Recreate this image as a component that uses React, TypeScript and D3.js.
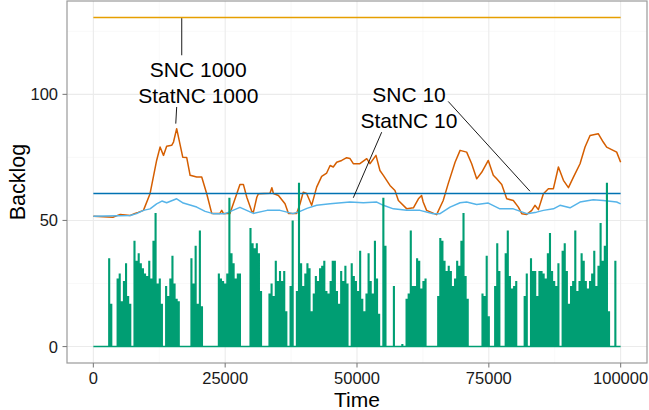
import React from "react";
import * as d3 from "d3";

// backlog traces
const snc1000Level = 130.5;
const snc10Level = 60.7;

const statNC1000Time = [
  0, 3700, 5100, 7000, 7900, 8500, 9500, 10750, 12000, 12650, 13300, 13900, 14850, 15200, 15800, 16950,
  17700, 18350, 19600, 20550, 21500, 22450, 24000, 24350, 24650, 25900, 27200, 27800, 28450, 29100, 30050,
  30350, 31000, 31300, 33500, 33850, 34150, 35100, 36350, 37000, 38550, 39200, 39800, 40450, 41400, 42350,
  43300, 44250, 44900, 45500, 46150, 47100, 48050, 48650, 49300, 50550, 51850, 52450, 53600, 54350, 55000,
  56250, 57200, 57850, 59450, 60700, 61650, 62250, 62550, 63200, 65100, 66350, 67300, 68600, 69550, 70800,
  71750, 72700, 73650, 74900, 75850, 76500, 77450, 78400, 79650, 80600, 81250, 82200, 83150, 83750, 84400,
  85350, 86300, 87250, 88200, 89150, 90100, 91050, 92300, 93250, 94200, 95750, 96700, 97350, 98300, 99250,
  100000,
];
const statNC1000 = [
  51.7, 51.3, 52.4, 52.0, 52.8, 53.2, 54.0, 60.6, 73.8, 79.1, 75.8, 79.4, 79.8, 81.1, 86.4, 75.1,
  75.0, 67.9, 67.2, 67.2, 60.6, 52.8, 52.8, 54.0, 52.8, 52.8, 60.6, 64.3, 64.3, 59.2, 53.6,
  53.3, 59.2, 60.6, 60.8, 63.0, 60.7, 59.9, 56.6, 52.8, 52.8, 56.6, 61.2, 60.7, 56.0, 63.2,
  67.5, 68.8, 71.8, 71.2, 73.1, 73.8, 74.9, 74.6, 72.5, 72.5, 74.5, 72.5, 75.8, 69.8, 67.9,
  63.9, 61.9, 57.9, 54.6, 55.0, 58.6, 59.9, 57.3, 54.0, 52.3, 57.9, 64.6, 73.1, 77.8, 77.1,
  72.5, 66.5, 69.1, 73.8, 67.9, 66.5, 64.3, 58.6, 57.9, 55.3, 52.7, 52.4, 54.0, 56.0, 54.3,
  60.6, 62.6, 62.6, 71.2, 65.9, 63.0, 67.2, 72.5, 79.1, 83.7, 84.4, 81.1, 79.1, 78.1, 77.1,
  73.1,
];

const statNC10Time = [
  0, 7000, 8200, 9500, 10750, 12000, 13000, 13900, 15800, 17050, 19600, 21200, 22700, 25000, 27800,
  30350, 32950, 35400, 37850, 39200, 40500, 42350, 44900, 48650, 51200, 53750, 55000, 56900, 59450,
  61950, 64450, 65750, 67650, 69550, 70800, 72700, 74900, 77100, 79650, 82200, 84050, 85350, 87250,
  88500, 90400, 92300, 94800, 96700, 99250, 100000,
];
const statNC10 = [
  51.7, 52.0, 52.7, 54.0, 54.6, 56.6, 57.7, 57.0, 58.6, 56.9, 55.3, 53.6, 52.7, 52.7, 55.2,
  52.8, 54.0, 54.0, 52.7, 53.6, 54.8, 56.0, 56.6, 57.3, 57.0, 57.3, 56.0, 54.6, 54.0,
  54.0, 52.7, 52.7, 55.3, 57.0, 57.3, 56.3, 56.9, 54.6, 54.6, 52.7, 53.3, 54.0, 54.6,
  56.0, 55.0, 57.3, 58.2, 57.9, 57.3, 56.6,
];

// arrivals sampled every 400 time units (t = 0 .. 100000)
const arrivalStep = 400;
const arrivals = [
  0, 0, 0, 0, 0, 0, 0, 35, 17, 0, // 0
  0, 27, 29, 18, 26, 33, 20, 17, 0, 42, // 10
  34, 37, 33, 31, 29, 28, 34, 27, 42, 53, // 20
  25, 27, 17, 0, 24, 20, 27, 36, 25, 19, // 30
  18, 0, 0, 0, 0, 0, 35, 25, 40, 17, // 40
  46, 16, 0, 0, 0, 0, 0, 0, 0, 29, // 50
  27, 26, 25, 29, 59, 37, 33, 27, 29, 29, // 60
  0, 0, 0, 0, 47, 41, 39, 41, 37, 22, // 70
  0, 0, 0, 21, 25, 20, 34, 26, 30, 26, // 80
  30, 14, 0, 24, 50, 0, 22, 65, 33, 24, // 90
  29, 33, 31, 14, 21, 28, 26, 31, 32, 34, // 100
  22, 21, 26, 34, 34, 22, 17, 30, 26, 32, // 110
  25, 0, 33, 28, 26, 22, 38, 19, 14, 21, // 120
  37, 26, 21, 42, 27, 13, 0, 59, 40, 0, // 130
  0, 0, 24, 0, 0, 0, 1, 0, 19, 21, // 140
  46, 24, 24, 35, 34, 23, 26, 27, 0, 0, // 150
  0, 0, 0, 20, 43, 42, 34, 30, 32, 30, // 160
  24, 27, 34, 32, 42, 53, 28, 19, 0, 0, // 170
  0, 0, 0, 0, 21, 20, 36, 12, 0, 0, // 180
  24, 41, 30, 0, 0, 37, 46, 28, 23, 24, // 190
  26, 0, 0, 0, 20, 29, 0, 35, 30, 30, // 200
  20, 30, 30, 29, 27, 37, 45, 30, 26, 24, // 210
  33, 0, 38, 41, 30, 17, 24, 26, 46, 22, // 220
  26, 37, 34, 26, 23, 26, 29, 38, 24, 32, // 230
  49, 34, 40, 65, 14, 0, 0, 34, 0, 0, // 240
  0,
];

const xTicks = [0, 25000, 50000, 75000, 100000];
const xMinor = [12500, 37500, 62500, 87500];
const yTicks = [0, 50, 100];
const yMinor = [25, 75, 125];

// annotation text and leader lines, in data units
const labels = [
  { t: 19900, v: 106.9, text: "SNC 1000" },
  { t: 19900, v: 96.7, text: "StatNC 1000" },
  { t: 59860, v: 96.9, text: "SNC 10" },
  { t: 59860, v: 86.8, text: "StatNC 10" },
];
const leaders = [
  { t1: 16760, v1: 130.2, t2: 16760, v2: 115.5 },
  { t1: 15800, v1: 95.0, t2: 15630, v2: 88.4 },
  { t1: 67300, v1: 97.2, t2: 82800, v2: 61.6 },
  { t1: 54680, v1: 85.0, t2: 49300, v2: 59.0 },
];

const W = 649;
const H = 410;
const panel = { left: 67, right: 647, top: 1, bottom: 363 };
const font = "'Liberation Sans', Arial, Helvetica, sans-serif";

export default function App() {
  const x = d3.scaleLinear().domain([-5000, 105000]).range([panel.left, panel.right]);
  const y = d3.scaleLinear().domain([-6.525, 137.025]).range([panel.bottom, panel.top]);

  const line = d3
    .line<[number, number]>()
    .x((d) => x(d[0]))
    .y((d) => y(d[1]));

  const wander1000 = line(statNC1000Time.map((t, i) => [t, statNC1000[i]]));
  const wave10 = line(statNC10Time.map((t, i) => [t, statNC10[i]]));

  const arrivalArea = d3
    .area<number>()
    .x((_, i) => x(i * arrivalStep))
    .y0(y(0))
    .y1((d) => y(d))
    .curve(d3.curveStepAfter)(arrivals);

  return (
    <svg
      width={W}
      height={H}
      style={{ position: "absolute", left: 0, top: 0, background: "#fff" }}
      fontFamily={font}
    >
      <rect
        x={panel.left}
        y={panel.top}
        width={panel.right - panel.left}
        height={panel.bottom - panel.top}
        fill="#fff"
      />
      {xMinor.map((t) => (
        <line key={"xm" + t} x1={x(t)} x2={x(t)} y1={panel.top} y2={panel.bottom} stroke="#f5f5f5" strokeWidth={0.6} />
      ))}
      {yMinor.map((v) => (
        <line key={"ym" + v} x1={panel.left} x2={panel.right} y1={y(v)} y2={y(v)} stroke="#f5f5f5" strokeWidth={0.6} />
      ))}
      {xTicks.map((t) => (
        <line key={"xg" + t} x1={x(t)} x2={x(t)} y1={panel.top} y2={panel.bottom} stroke="#ebebeb" strokeWidth={1.1} />
      ))}
      {yTicks.map((v) => (
        <line key={"yg" + v} x1={panel.left} x2={panel.right} y1={y(v)} y2={y(v)} stroke="#ebebeb" strokeWidth={1.1} />
      ))}

      <line x1={x(0)} x2={x(100000)} y1={y(snc1000Level)} y2={y(snc1000Level)} stroke="#E69F00" strokeWidth={1.4} />
      <path d={wander1000 || ""} fill="none" stroke="#D55E00" strokeWidth={1.5} strokeLinejoin="round" />
      <line x1={x(0)} x2={x(100000)} y1={y(snc10Level)} y2={y(snc10Level)} stroke="#0072B2" strokeWidth={1.5} />
      <path d={wave10 || ""} fill="none" stroke="#56B4E9" strokeWidth={1.5} strokeLinejoin="round" />

      <path d={arrivalArea || ""} fill="#009E73" />
      <line x1={x(0)} x2={x(100000)} y1={y(0)} y2={y(0)} stroke="#009E73" strokeWidth={1.5} />

      {leaders.map((l, i) => (
        <line key={"ld" + i} x1={x(l.t1)} y1={y(l.v1)} x2={x(l.t2)} y2={y(l.v2)} stroke="#000" strokeWidth={0.9} />
      ))}
      {labels.map((l, i) => (
        <text key={"lb" + i} x={x(l.t)} y={y(l.v)} textAnchor="middle" fontSize={21} fill="#000">
          {l.text}
        </text>
      ))}

      <rect
        x={panel.left}
        y={panel.top}
        width={panel.right - panel.left}
        height={panel.bottom - panel.top}
        fill="none"
        stroke="#9a9a9a"
        strokeWidth={1.2}
      />

      {xTicks.map((t) => (
        <g key={"xt" + t}>
          <line x1={x(t)} x2={x(t)} y1={panel.bottom} y2={panel.bottom + 4.5} stroke="#7f7f7f" strokeWidth={1.1} />
          <text x={x(t)} y={384} textAnchor="middle" fontSize={16.5} fill="#1a1a1a">
            {t}
          </text>
        </g>
      ))}
      {yTicks.map((v) => (
        <g key={"yt" + v}>
          <line x1={panel.left - 4.5} x2={panel.left} y1={y(v)} y2={y(v)} stroke="#7f7f7f" strokeWidth={1.1} />
          <text x={58} y={y(v) + 6} textAnchor="end" fontSize={16.5} fill="#1a1a1a">
            {v}
          </text>
        </g>
      ))}

      <text x={(panel.left + panel.right) / 2} y={407} textAnchor="middle" fontSize={21} fill="#000">
        Time
      </text>
      <text
        transform={`translate(25, ${(panel.top + panel.bottom) / 2}) rotate(-90)`}
        textAnchor="middle"
        fontSize={21.5}
        fill="#000"
      >
        Backlog
      </text>
    </svg>
  );
}
